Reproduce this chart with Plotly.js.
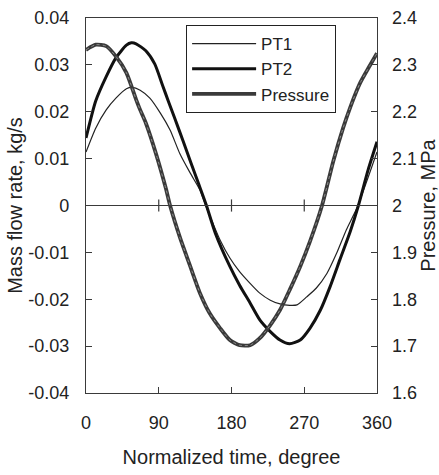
<!DOCTYPE html>
<html>
<head>
<meta charset="utf-8">
<script src="https://cdn.plot.ly/plotly-3.0.1.min.js"></script>
<style>
  html, body { margin: 0; padding: 0; background: #fff; }
  #chart { width: 439px; height: 475px; }
</style>
</head>
<body>
<div id="chart"></div>
<script>
// ---- data ----
const pt1Deg  = [0, 12, 25, 37, 50, 57, 67, 79, 92, 104, 116, 129, 141, 148, 157, 166, 178, 190, 203, 215, 228, 240, 252, 261, 273, 285, 298, 310, 322, 335, 348, 360];
const pt1Flow = [0.0114, 0.0165, 0.0204, 0.0229, 0.0249, 0.0252, 0.0246, 0.0229, 0.0197, 0.0161, 0.0111, 0.0069, 0.0033, 0.0000, -0.0038, -0.0074, -0.0112, -0.0141, -0.0166, -0.0187, -0.0202, -0.0210, -0.0213, -0.0212, -0.0195, -0.0176, -0.0145, -0.0102, -0.0052, -0.0006, 0.0055, 0.0114];

const pt2Deg  = [0, 12, 25, 37, 50, 56, 62, 74, 85, 95, 102, 110, 120, 130, 140, 149, 160, 178, 190, 203, 215, 228, 240, 252, 265, 277, 290, 302, 314, 327, 337, 349, 360];
const pt2Flow = [0.0144, 0.0223, 0.0275, 0.0315, 0.0342, 0.0347, 0.0345, 0.0330, 0.0302, 0.0255, 0.0222, 0.0185, 0.0138, 0.0090, 0.0043, 0.0000, -0.0059, -0.0130, -0.0170, -0.0208, -0.0244, -0.0269, -0.0287, -0.0295, -0.0287, -0.0262, -0.0223, -0.0173, -0.0116, -0.0055, 0.0000, 0.0076, 0.0136];

const presDeg = [0, 12, 25, 37, 50, 62, 67, 74, 87, 99, 104, 116, 129, 141, 153, 166, 178, 190, 203, 215, 228, 240, 252, 265, 277, 292, 306, 318, 327, 339, 351, 360];
const presMPa = [2.332, 2.343, 2.340, 2.318, 2.283, 2.226, 2.204, 2.176, 2.108, 2.035, 2.000, 1.933, 1.870, 1.813, 1.770, 1.738, 1.713, 1.702, 1.702, 1.717, 1.745, 1.777, 1.820, 1.870, 1.923, 2.000, 2.095, 2.165, 2.210, 2.261, 2.298, 2.325];

const seriesNames = ["PT1", "PT2", "Pressure"];

const xTickVals  = [0, 90, 180, 270, 360];
const xTickText  = ["0", "90", "180", "270", "360"];
const yTickVals  = [0.04, 0.03, 0.02, 0.01, 0, -0.01, -0.02, -0.03, -0.04];
const yTickText  = ["0.04", "0.03", "0.02", "0.01", "0", "-0.01", "-0.02", "-0.03", "-0.04"];
const y2TickVals = [2.4, 2.3, 2.2, 2.1, 2.0, 1.9, 1.8, 1.7, 1.6];
const y2TickText = ["2.4", "2.3", "2.2", "2.1", "2", "1.9", "1.8", "1.7", "1.6"];

const xTitle  = "Normalized time, degree";
const yTitle  = "Mass flow rate, kg/s";
const y2Title = "Pressure, MPa";

// ---- styling ----
const FONT = "Liberation Sans, Arial, sans-serif";
const AX = "#3a3a3a";
const TXT = "#222";

const traces = [
  { x: pt1Deg, y: pt1Flow, name: seriesNames[0], type: "scatter", mode: "lines",
    line: { color: "#222", width: 1.2, shape: "spline", smoothing: 0.6 } },
  { x: pt2Deg, y: pt2Flow, name: seriesNames[1], type: "scatter", mode: "lines",
    line: { color: "#111", width: 3, shape: "spline", smoothing: 0.6 } },
  { x: presDeg, y: presMPa, name: seriesNames[2], type: "scatter", mode: "lines", yaxis: "y2",
    line: { color: "#3a3a3a", width: 3.8, shape: "spline", smoothing: 0.6 } },
  { x: presDeg, y: presMPa, name: seriesNames[2], type: "scatter", mode: "lines", yaxis: "y2",
    showlegend: false, hoverinfo: "skip",
    line: { color: "#8c8c8c", width: 1, dash: "dot", shape: "spline", smoothing: 0.6 } }
];

// small crossing ticks on the zero line, at the inner x tick values
const zeroTicks = xTickVals.slice(1, -1).map(v => ({
  type: "line", xref: "x", yref: "y", x0: v, x1: v, y0: -0.0013, y1: 0.0013,
  line: { color: AX, width: 1.2 }
}));
zeroTicks.push({
  type: "line", xref: "paper", yref: "y", x0: 0, x1: 1, y0: 0, y1: 0,
  line: { color: AX, width: 1.2 }
});

const layout = {
  width: 439, height: 475,
  margin: { l: 86, r: 62, t: 18, b: 82, pad: 0 },
  paper_bgcolor: "#fff", plot_bgcolor: "#fff",
  font: { family: FONT, size: 18, color: TXT },
  showlegend: true,
  legend: {
    x: 0.344, y: 0.981, xanchor: "left", yanchor: "top",
    bgcolor: "#fff", bordercolor: "#222", borderwidth: 1,
    font: { family: FONT, size: 17, color: TXT },
    itemwidth: 64, tracegroupgap: 0
  },
  xaxis: {
    range: [0, 360], tickmode: "array", tickvals: xTickVals, ticktext: xTickText,
    ticks: "inside", ticklen: 6, tickwidth: 1.2, tickcolor: AX,
    showline: true, linecolor: AX, linewidth: 1.2, mirror: true,
    showgrid: false, zeroline: false, ticklabelstandoff: 13,
    title: { text: xTitle, font: { family: FONT, size: 20, color: TXT }, standoff: 18 }
  },
  yaxis: {
    range: [-0.04, 0.04], tickmode: "array", tickvals: yTickVals, ticktext: yTickText,
    ticks: "inside", ticklen: 6, tickwidth: 1.2, tickcolor: AX,
    showline: true, linecolor: AX, linewidth: 1.2, mirror: true,
    showgrid: false, zeroline: false, ticklabelstandoff: 12,
    title: { text: yTitle, font: { family: FONT, size: 20, color: TXT }, standoff: 0 }
  },
  yaxis2: {
    range: [1.6, 2.4], overlaying: "y", side: "right",
    tickmode: "array", tickvals: y2TickVals, ticktext: y2TickText,
    ticks: "inside", ticklen: 6, tickwidth: 1.2, tickcolor: AX,
    showline: false, showgrid: false, zeroline: false, ticklabelstandoff: 14,
    title: { text: y2Title, font: { family: FONT, size: 20, color: TXT }, standoff: 6 }
  },
  shapes: zeroTicks
};

Plotly.newPlot("chart", traces, layout, { displayModeBar: false, staticPlot: true });
</script>
</body>
</html>
